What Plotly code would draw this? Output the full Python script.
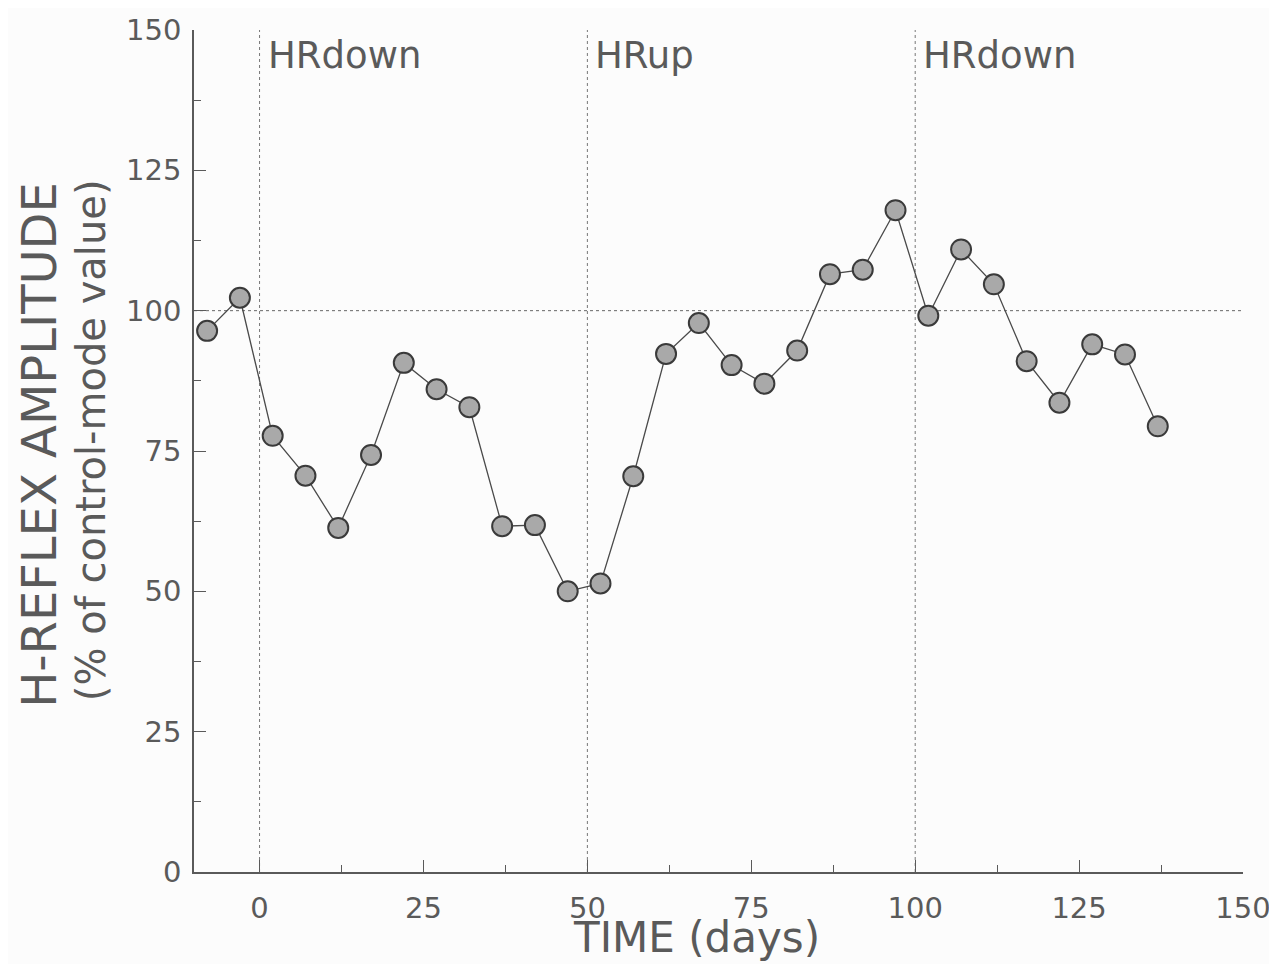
import plotly.graph_objects as go

days = [-8, -3, 2, 7, 12, 17, 22, 27, 32, 37, 42, 47, 52, 57, 62, 67, 72, 77, 82, 87,
        92, 97, 102, 107, 112, 117, 122, 127, 132, 137]
amplitude = [96.4, 102.3, 77.7, 70.6, 61.3, 74.3, 90.7, 86.0, 82.8, 61.6, 61.8, 50.0,
             51.4, 70.5, 92.3, 97.8, 90.3, 87.0, 92.9, 106.5, 107.3, 117.9, 99.1, 110.9,
             104.7, 91.0, 83.6, 94.0, 92.2, 79.4]
phase_starts = [0, 50, 100]
phase_labels = ["HRdown", "HRup", "HRdown"]
control_level = 100
x_ticks = [0, 25, 50, 75, 100, 125, 150]
y_ticks = [0, 25, 50, 75, 100, 125, 150]
minor_ticks = [12.5, 37.5, 62.5, 87.5, 112.5, 137.5]

FONT = "DejaVu Sans"
GRAY = "#5a5a5a"

fig = go.Figure()
fig.add_trace(go.Scatter(
    x=days, y=amplitude, mode="lines+markers",
    line=dict(color="#4a4a4a", width=1.3),
    marker=dict(size=20, color="#a9a9a9", line=dict(color="#3a3a3a", width=2)),
    showlegend=False, hoverinfo="x+y",
))

shapes = []
for xs in phase_starts:
    shapes.append(dict(type="line", xref="x", yref="y", x0=xs, x1=xs, y0=0, y1=150,
                       line=dict(color="#777777", width=1, dash="dot"), layer="below"))
shapes.append(dict(type="line", xref="x", yref="y", x0=-10, x1=150, y0=control_level, y1=control_level,
                   line=dict(color="#666666", width=1, dash="dot"), layer="below"))

annotations = []
for xs, lab in zip(phase_starts, phase_labels):
    annotations.append(dict(x=xs, y=145.5, xref="x", yref="y", text=lab, showarrow=False,
                            xanchor="left", yanchor="middle", xshift=6,
                            font=dict(family=FONT, size=37, color=GRAY)))
annotations.append(dict(x=0.4795, y=-0.078, xref="paper", yref="paper", text="TIME (days)",
                        showarrow=False, xanchor="center", yanchor="middle",
                        font=dict(family=FONT, size=42, color=GRAY)))
annotations.append(dict(x=-0.148, y=0.507, xref="paper", yref="paper", text="H-REFLEX AMPLITUDE",
                        showarrow=False, xanchor="center", yanchor="middle", textangle=-90,
                        font=dict(family=FONT, size=48, color=GRAY)))
annotations.append(dict(x=-0.0981, y=0.513, xref="paper", yref="paper", text="(% of control-mode value)",
                        showarrow=False, xanchor="center", yanchor="middle", textangle=-90,
                        font=dict(family=FONT, size=40, color=GRAY)))

axis_common = dict(showgrid=False, zeroline=False, automargin=False,
                   showline=True, linecolor=GRAY, linewidth=1.5,
                   ticks="inside", ticklen=12, tickwidth=1.3, tickcolor=GRAY,
                   minor=dict(tickvals=minor_ticks, ticks="inside",
                              ticklen=7, tickwidth=1.3, tickcolor=GRAY),
                   tickfont=dict(family=FONT, size=29, color=GRAY),
                   ticklabeloverflow="allow")

fig.update_layout(
    width=1267, height=956,
    margin=dict(l=186, r=32, t=22, b=92, autoexpand=False),
    paper_bgcolor="#fcfcfc", plot_bgcolor="#fcfcfc",
    shapes=shapes, annotations=annotations,
    xaxis=dict(range=[-10, 150], tickvals=x_ticks, ticklabelstandoff=9, **axis_common),
    yaxis=dict(range=[0, 150], tickvals=y_ticks, ticklabelstandoff=5, **axis_common),
)

fig.write_html("out.html")
